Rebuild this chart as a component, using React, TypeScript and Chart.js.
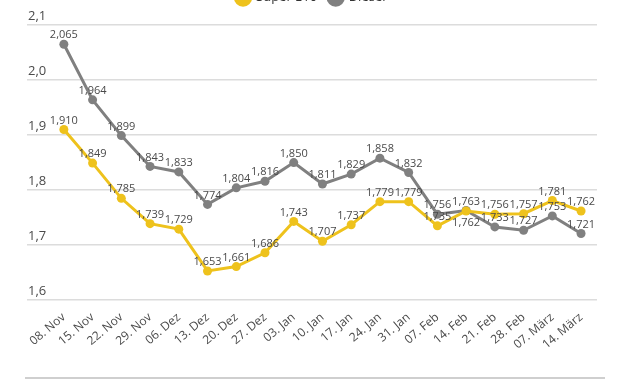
import React, { useEffect, useRef } from "react";
import { Chart, registerables } from "chart.js";

Chart.register(...registerables);

const categories = [
  "08. Nov", "15. Nov", "22. Nov", "29. Nov", "06. Dez", "13. Dez", "20. Dez",
  "27. Dez", "03. Jan", "10. Jan", "17. Jan", "24. Jan", "31. Jan", "07. Feb",
  "14. Feb", "21. Feb", "28. Feb", "07. März", "14. März",
];

const superE10 = [
  1.910, 1.849, 1.785, 1.739, 1.729, 1.653, 1.661, 1.686, 1.743, 1.707,
  1.737, 1.779, 1.779, 1.735, 1.762, 1.756, 1.757, 1.781, 1.762,
];

const diesel = [
  2.065, 1.964, 1.899, 1.843, 1.833, 1.774, 1.804, 1.816, 1.850, 1.811,
  1.829, 1.858, 1.832, 1.756, 1.763, 1.733, 1.727, 1.753, 1.721,
];

const yTicks = [1.6, 1.7, 1.8, 1.9, 2.0, 2.1];

const YELLOW = "#EEC21C";
const GRAY = "#808080";
const TEXT = "#4a4a4a";
const FONT = "'Open Sans', 'Noto Sans', sans-serif";

const fmt = (v: number, d: number) => v.toFixed(d).replace(".", ",");

const legendSpacer = {
  id: "legendSpacer",
  beforeInit(chart: any) {
    const legend = chart.legend;
    if (!legend) return;
    const origFit = legend.fit;
    legend.fit = function () {
      origFit.call(this);
      this.height += 11;
    };
  },
};

const valueLabels = {
  id: "valueLabels",
  afterDatasetsDraw(chart: any) {
    const ctx = chart.ctx;
    ctx.save();
    ctx.font = `11px ${FONT}`;
    ctx.fillStyle = TEXT;
    ctx.textAlign = "center";
    ctx.textBaseline = "middle";
    const m1 = chart.getDatasetMeta(1);
    chart.data.datasets.forEach((ds: any, di: number) => {
      const meta = chart.getDatasetMeta(di);
      meta.data.forEach((pt: any, i: number) => {
        let below = false;
        if (di === 0) {
          const other = m1.data[i];
          if (other && Math.abs(other.y - pt.y) < 5) below = true;
        }
        const y = below ? pt.y + 12 : pt.y - 9;
        ctx.fillText(fmt(ds.data[i].y, 3), pt.x, y);
      });
    });
    ctx.restore();
  },
};

export default function App() {
  const ref = useRef<HTMLCanvasElement | null>(null);
  useEffect(() => {
    if (!ref.current) return;
    const chart = new Chart(ref.current, {
      type: "line",
      data: {
        datasets: [
          {
            label: "Super E10",
            data: superE10.map((y, i) => ({ x: i, y })),
            borderColor: YELLOW,
            backgroundColor: YELLOW,
            borderWidth: 3,
            pointRadius: 4.5,
            pointBackgroundColor: YELLOW,
            pointBorderWidth: 0,
            tension: 0,
          },
          {
            label: "Diesel",
            data: diesel.map((y, i) => ({ x: i, y })),
            borderColor: GRAY,
            backgroundColor: GRAY,
            borderWidth: 3,
            pointRadius: 4.5,
            pointBackgroundColor: GRAY,
            pointBorderWidth: 0,
            tension: 0,
          },
        ],
      },
      options: {
        animation: false,
        responsive: false,
        maintainAspectRatio: false,
        layout: { padding: { left: 25, right: 33, top: 10, bottom: 27 } },
        plugins: {
          legend: {
            position: "top",
            labels: {
              usePointStyle: true,
              pointStyle: "circle",
              boxWidth: 14,
              boxHeight: 13,
              padding: 12,
              color: "#333",
              font: { family: FONT, size: 13 },
            },
          },
          tooltip: { enabled: false },
        },
        scales: {
          x: {
            type: "linear",
            min: -1.283,
            max: 18.555,
            grid: { display: false },
            border: { display: false },
            afterBuildTicks: (scale: any) => {
              scale.ticks = categories.map((_, i) => ({ value: i }));
            },
            ticks: {
              autoSkip: false,
              maxRotation: 40,
              minRotation: 40,
              padding: 2,
              color: TEXT,
              font: { family: FONT, size: 12 },
              callback: (v: any) => categories[v as number] ?? "",
            },
          },
          y: {
            min: 1.6,
            max: 2.1,
            afterBuildTicks: (scale: any) => {
              scale.ticks = yTicks.map((v) => ({ value: v }));
            },
            grid: { color: "#dcdcdc", lineWidth: 1.5, drawTicks: false },
            border: { display: false },
            ticks: {
              mirror: true,
              labelOffset: -9,
              padding: 1,
              color: TEXT,
              font: { family: FONT, size: 13 },
              callback: (v: any) => fmt(Number(v), 1),
            },
          },
        },
      },
      plugins: [legendSpacer, valueLabels],
    });
    return () => chart.destroy();
  }, []);
  return (
    <div style={{ position: "fixed", left: 0, top: 0, width: 630, height: 381, overflow: "hidden", background: "#fff" }}>
      <canvas ref={ref} width={630} height={412} style={{ position: "absolute", left: 0, top: -31, width: 630, height: 412 }} />
      <div style={{ position: "absolute", left: 25, top: 377, width: 580, height: 2, background: "#cfcfcf" }} />
    </div>
  );
}
